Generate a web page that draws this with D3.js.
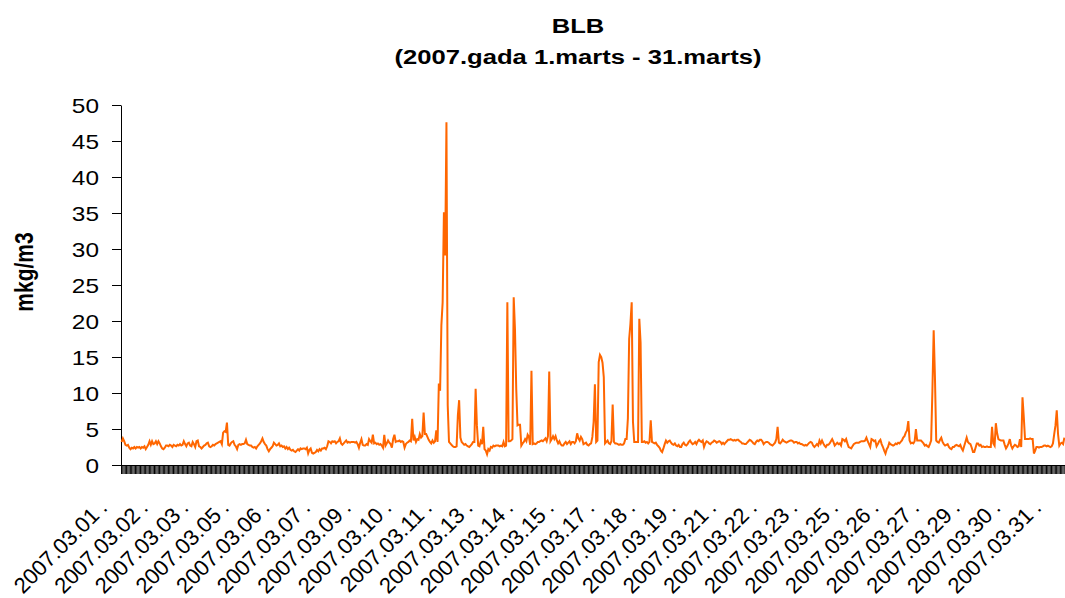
<!DOCTYPE html>
<html>
<head>
<meta charset="utf-8">
<script src="https://cdn.jsdelivr.net/npm/d3@7"></script>
<style>
  body { margin: 0; background: #fff; }
  svg { display: block; }
  text { font-family: "Liberation Sans", Arial, sans-serif; fill: #000; }
</style>
</head>
<body>
<svg id="chart" width="1065" height="598"></svg>
<script>
// hourly values, mkg/m3, one row = one day (24 hours)
const week1 = [
  3.2,3.7,3.3,2.8,2.7,2.8,2.4,2.2,2.4,2.3,2.5,2.3,2.5,2.4,2.5,2.3,2.5,2.4,2.6,2.2,2.5,2.8,3.3,2.8,
  3.3,2.9,3.0,3.3,2.9,3.3,3.0,2.6,2.3,2.2,2.4,2.7,2.7,2.6,2.8,2.7,2.5,2.8,2.7,2.6,2.8,2.7,2.9,2.7,
  2.8,3.3,2.9,2.6,3.0,3.1,2.7,2.6,3.2,2.9,2.5,3.3,3.4,2.6,2.5,2.3,2.5,2.7,2.8,3.0,3.1,2.6,2.5,2.6,
  2.8,2.7,2.9,3.0,3.1,3.2,3.3,2.9,4.5,4.7,4.6,5.9,2.8,2.7,3.0,3.2,3.3,2.8,2.6,2.2,2.8,2.9,2.8,2.9,
  2.9,3.0,3.5,2.9,2.8,2.7,2.7,2.5,2.4,2.5,2.3,2.6,2.8,3.0,3.3,3.7,3.2,2.9,2.7,2.2,1.9,2.2,2.4,2.6,
  3.1,2.9,2.7,2.8,3.0,2.6,2.7,2.5,2.6,2.3,2.5,2.2,2.4,2.1,2.0,2.1,1.9,1.8,2.0,2.2,2.0,2.3,2.2,2.3,
  2.3,2.2,2.4,1.6,2.1,2.3,1.7,1.6,1.7,1.8,2.1,1.9,2.2,2.0,2.3,2.3,2.4,2.2,2.6,3.3,3.2,3.0,3.3,3.2
];
const week2 = [
  3.3,3.0,3.2,3.3,3.7,3.0,2.8,3.0,3.2,3.4,3.1,3.2,3.1,3.2,3.2,3.2,3.1,3.2,2.9,2.4,3.1,3.6,2.8,2.7,
  2.7,2.9,2.8,3.6,3.3,3.1,4.2,3.0,3.1,2.9,3.0,2.8,2.9,2.7,2.4,4.2,2.7,3.0,3.4,3.1,2.9,2.4,3.6,4.2,
  3.2,3.3,3.3,3.4,3.2,3.3,3.2,2.4,2.9,3.1,3.2,3.4,3.3,6.4,3.4,3.9,3.2,3.6,3.5,4.3,3.8,4.0,7.3,4.3,
  4.3,3.9,3.5,3.2,3.0,3.4,3.1,3.3,4.8,3.2,11.3,10.3,19.4,22.6,35.1,29.1,47.6,8.3,3.2,3.0,2.8,2.6,2.5,2.5,
  2.6,6.9,9.0,3.8,3.2,3.0,2.8,2.9,2.7,2.6,2.5,2.7,2.9,3.2,3.2,10.6,5.5,2.7,2.6,3.3,2.9,5.3,2.2,2.0,
  1.5,2.2,2.0,2.5,2.4,2.7,2.6,2.7,2.7,2.7,2.6,2.7,2.6,3.2,2.6,2.7,22.6,3.3,3.3,3.4,3.6,23.3,18.9,10.6,
  5.5,5.6,5.6,2.7,3.0,3.2,3.6,3.3,4.2,3.9,2.8,13.1,2.9,3.0,2.9,3.0,3.2,3.2,3.3,3.4,3.3,3.5,3.7,3.3
];
const week3 = [
  4.0,13.0,3.3,3.6,4.0,3.6,4.0,3.4,3.0,3.3,2.9,2.7,2.7,3.0,3.2,2.9,3.1,3.3,2.9,3.2,3.2,3.0,3.3,4.4,
  3.7,3.4,3.9,3.6,2.9,3.0,3.1,2.8,2.7,2.9,3.0,3.9,6.0,11.2,3.2,3.4,14.3,15.3,15.0,14.2,12.2,3.0,3.2,3.4,
  3.0,2.9,3.3,8.4,3.2,3.0,3.0,2.9,2.8,2.9,2.8,2.8,3.0,3.6,3.6,6.5,17.5,19.6,22.6,6.0,3.2,3.2,3.2,3.2,
  20.3,17.0,3.2,3.2,3.3,3.1,3.2,3.0,3.2,6.2,3.2,3.1,3.0,3.1,2.8,2.6,2.4,2.0,1.8,2.3,2.9,3.4,3.1,3.3,
  3.4,3.1,2.9,2.8,3.0,2.7,2.6,2.8,2.5,2.5,2.9,3.1,2.8,2.7,2.9,3.2,3.4,3.1,2.9,3.0,3.2,2.9,3.3,3.5,
  3.3,3.2,3.4,2.5,3.0,3.3,3.2,3.0,2.9,3.1,3.2,3.4,3.3,3.1,3.2,3.3,3.2,2.9,3.1,2.9,3.1,3.3,3.5,3.5,
  3.6,3.5,3.4,3.5,3.4,3.5,3.5,3.3,3.2,3.0,3.0,2.9,2.9,3.1,3.3,3.5,3.4,3.2,3.0,2.9,3.2,3.4,3.3,3.5
];
const week4 = [
  3.5,3.3,2.9,3.1,3.2,3.2,3.1,2.9,2.8,2.7,2.9,3.1,3.6,5.3,3.1,3.0,3.2,3.5,3.3,3.2,3.1,3.2,3.3,3.4,
  3.4,3.3,3.1,3.2,3.2,3.0,3.1,2.9,2.9,2.8,2.7,2.8,2.7,2.9,3.1,3.2,3.1,2.7,2.5,2.7,2.9,2.7,3.4,3.0,
  3.4,3.0,2.7,2.5,2.8,2.8,3.0,3.3,3.6,3.2,2.7,2.9,3.1,2.9,3.0,2.7,3.6,3.5,3.3,3.6,3.0,2.5,2.4,2.3,
  2.6,2.9,3.0,3.1,3.1,3.1,3.2,3.3,3.3,3.3,3.4,3.8,3.3,2.9,2.5,3.6,3.5,3.3,3.4,2.6,2.9,3.3,3.5,2.9,
  2.5,2.0,1.6,2.2,2.5,3.1,2.9,2.8,2.7,2.8,3.0,2.9,3.1,3.0,3.2,3.4,3.8,4.0,4.5,4.8,6.1,3.4,3.0,3.1,
  3.0,3.3,5.0,3.4,3.4,3.4,3.4,3.2,3.0,2.7,2.8,2.6,2.5,2.9,3.4,10.3,18.7,12.2,3.4,3.2,3.1,3.5,3.8,3.2,
  2.9,2.7,2.8,2.9,2.5,2.3,2.2,2.5,2.5,2.7,2.8,2.7,2.6,2.8,2.3,2.0,2.6,3.2,3.8,3.2,3.0,2.9,2.4,1.8
];
const week5 = [
  1.8,2.4,3.0,3.0,2.7,2.8,2.5,2.6,2.5,2.5,2.6,2.5,2.5,2.5,5.3,3.0,2.7,5.8,4.4,3.6,3.5,3.4,3.4,3.4,
  2.8,2.3,2.6,3.0,3.6,2.7,2.3,2.6,2.8,2.7,2.5,2.6,3.6,2.5,9.4,6.7,3.6,3.6,3.6,3.6,3.7,3.6,3.6,1.6,
  2.0,2.5,2.5,2.4,2.5,2.5,2.6,2.7,2.7,2.6,2.7,2.6,2.5,2.6,3.0,4.3,5.5,7.6,4.3,2.7,3.0,3.1,2.9,3.8
];

const tickLabels = [
  '2007.03.01.', '2007.03.02.', '2007.03.03.', '2007.03.05.', '2007.03.06.', '2007.03.07.',
  '2007.03.09.', '2007.03.10.', '2007.03.11.', '2007.03.13.', '2007.03.14.', '2007.03.15.',
  '2007.03.17.', '2007.03.18.', '2007.03.19.', '2007.03.21.', '2007.03.22.', '2007.03.23.',
  '2007.03.25.', '2007.03.26.', '2007.03.27.', '2007.03.29.', '2007.03.30.', '2007.03.31.'
];
const labelStep = 32; // one label every 32 hours
const yTicks = [0, 5, 10, 15, 20, 25, 30, 35, 40, 45, 50];

const values = [...week1, ...week2, ...week3, ...week4, ...week5];

const svg = d3.select('#chart');
const SX = 1.22; // the original picture is stretched sideways

const x = d3.scaleLinear().domain([0, values.length]).range([121, 1065]);
const y = d3.scaleLinear().domain([0, 50]).range([465, 105]);

// y axis
const yAxis = svg.append('g')
    .attr('transform', 'translate(121,0)')
    .call(d3.axisLeft(y).tickValues(yTicks).tickSize(9).tickSizeOuter(0));
yAxis.attr('font-size', 20).attr('font-family', null);
yAxis.selectAll('line, path').attr('stroke', '#000');
yAxis.selectAll('text')
    .attr('x', null)
    .attr('dy', '0.36em')
    .attr('transform', `translate(-22,0) scale(${SX},1)`);

// x axis: a tick between every hour
const xAxis = svg.append('g')
    .attr('transform', 'translate(0,465)')
    .call(d3.axisBottom(x).tickValues(d3.range(0, values.length + 1)).tickSize(9).tickSizeOuter(0).tickFormat(''));
xAxis.selectAll('line, path').attr('stroke', '#000');

// series
svg.append('path')
    .datum(values)
    .attr('fill', 'none')
    .attr('stroke', '#ff6600')
    .attr('stroke-width', 2)
    .attr('d', d3.line().x((d, i) => x(i + 0.5)).y(d => y(d)));

// rotated date labels (the last dot sits a little apart, as in Excel)
const lab = svg.append('g').selectAll('text')
    .data(tickLabels)
    .join('text')
    .attr('transform', (d, k) => `translate(${x(k * labelStep + 0.5) - 13},509) rotate(-45)`)
    .attr('text-anchor', 'end')
    .style('font-size', '22px');
lab.append('tspan').text(d => d.slice(0, -1));
lab.append('tspan').attr('dx', 5).text('.');

// titles
svg.append('text')
    .attr('transform', `translate(578,33) scale(${SX},1)`)
    .attr('text-anchor', 'middle')
    .style('font-size', '21px').style('font-weight', 'bold')
    .text('BLB');
svg.append('text')
    .attr('transform', `translate(578,64) scale(${SX},1)`)
    .attr('text-anchor', 'middle')
    .style('font-size', '21px').style('font-weight', 'bold')
    .text('(2007.gada 1.marts - 31.marts)');
svg.append('text')
    .attr('transform', `translate(33,272) scale(${SX},1) rotate(-90)`)
    .attr('text-anchor', 'middle')
    .style('font-size', '21px').style('font-weight', 'bold')
    .text('mkg/m3');
</script>
</body>
</html>
